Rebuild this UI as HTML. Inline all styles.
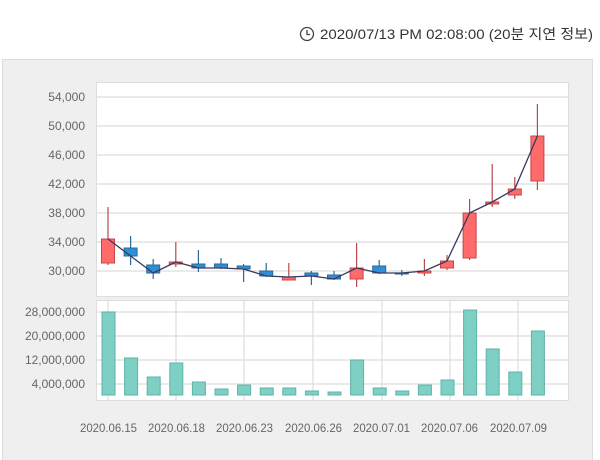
<!DOCTYPE html>
<html><head><meta charset="utf-8"><style>
body{margin:0;width:600px;height:460px;background:#fff;overflow:hidden}
svg{display:block;font-family:"Liberation Sans","Noto Sans CJK KR",sans-serif}
</style></head><body>
<svg width="600" height="460" viewBox="0 0 600 460">
<circle cx="307" cy="34" r="6.5" fill="none" stroke="#444" stroke-width="1.3"/>
<path d="M307 30v4.5h3" fill="none" stroke="#444" stroke-width="1.3"/>
<text x="320" y="39" textLength="273" lengthAdjust="spacingAndGlyphs" font-size="14" fill="#333" font-family="Liberation Sans,'Noto Sans CJK KR',sans-serif">2020/07/13 PM 02:08:00 (20분 지연 정보)</text>
<rect x="2.5" y="59.5" width="590" height="402" fill="#efefef" stroke="#ddd"/>
<rect x="96.5" y="82.5" width="472" height="214" fill="#fff" stroke="#ddd"/>
<rect x="96.5" y="300.5" width="472" height="100" fill="#fff" stroke="#ddd"/>
<g stroke="#ddd" stroke-width="1.2">
<line x1="97" x2="568" y1="97" y2="97"/><line x1="97" x2="568" y1="126" y2="126"/><line x1="97" x2="568" y1="155" y2="155"/><line x1="97" x2="568" y1="184" y2="184"/><line x1="97" x2="568" y1="213" y2="213"/><line x1="97" x2="568" y1="242" y2="242"/><line x1="97" x2="568" y1="271" y2="271"/>
<line x1="97" x2="568" y1="312" y2="312"/><line x1="97" x2="568" y1="336" y2="336"/><line x1="97" x2="568" y1="360" y2="360"/><line x1="97" x2="568" y1="384" y2="384"/>
<line x1="108" x2="108" y1="301" y2="400"/><line x1="176" x2="176" y1="301" y2="400"/><line x1="244" x2="244" y1="301" y2="400"/><line x1="313" x2="313" y1="301" y2="400"/><line x1="382" x2="382" y1="301" y2="400"/><line x1="450" x2="450" y1="301" y2="400"/><line x1="518" x2="518" y1="301" y2="400"/>
</g>
<g font-size="12" fill="#666" text-anchor="end" lengthAdjust="spacingAndGlyphs">
<text x="85" y="101">54,000</text><text x="85" y="130">50,000</text><text x="85" y="159">46,000</text><text x="85" y="188">42,000</text><text x="85" y="217">38,000</text><text x="85" y="246">34,000</text><text x="85" y="275">30,000</text>
<text x="85" y="316">28,000,000</text><text x="85" y="340">20,000,000</text><text x="85" y="364">12,000,000</text><text x="85" y="388">4,000,000</text>
</g>
<g font-size="12" fill="#666">
<text x="80" y="432" textLength="57" lengthAdjust="spacingAndGlyphs">2020.06.15</text><text x="148" y="432" textLength="57" lengthAdjust="spacingAndGlyphs">2020.06.18</text><text x="216" y="432" textLength="57" lengthAdjust="spacingAndGlyphs">2020.06.23</text><text x="285" y="432" textLength="57" lengthAdjust="spacingAndGlyphs">2020.06.26</text><text x="353" y="432" textLength="57" lengthAdjust="spacingAndGlyphs">2020.07.01</text><text x="421" y="432" textLength="57" lengthAdjust="spacingAndGlyphs">2020.07.06</text><text x="490" y="432" textLength="57" lengthAdjust="spacingAndGlyphs">2020.07.09</text>
</g>
<g fill="#7ecfc4" stroke="#5fb3a8">
<rect x="102" y="312" width="13" height="83"/><rect x="124.6" y="358" width="13" height="37"/><rect x="147.2" y="377" width="13" height="18"/><rect x="169.8" y="363" width="13" height="32"/><rect x="192.4" y="382" width="13" height="13"/><rect x="215" y="389" width="13" height="6"/><rect x="237.6" y="385" width="13" height="10"/><rect x="260.2" y="388" width="13" height="7"/><rect x="282.8" y="388" width="13" height="7"/><rect x="305.4" y="391" width="13" height="4"/><rect x="328" y="392" width="13" height="3"/><rect x="350.6" y="360" width="13" height="35"/><rect x="373.2" y="388" width="13" height="7"/><rect x="395.8" y="391" width="13" height="4"/><rect x="418.4" y="385" width="13" height="10"/><rect x="441" y="380" width="13" height="15"/><rect x="463.6" y="310" width="13" height="85"/><rect x="486.2" y="349" width="13" height="46"/><rect x="508.8" y="372" width="13" height="23"/><rect x="531.4" y="331" width="13" height="64"/>
</g>
<g stroke="#b84a4a" stroke-width="1.2">
<line x1="108" x2="108" y1="207" y2="265"/><line x1="175.8" x2="175.8" y1="242" y2="267"/><line x1="288.8" x2="288.8" y1="263" y2="280"/><line x1="356.6" x2="356.6" y1="243" y2="287"/><line x1="424.4" x2="424.4" y1="259" y2="276"/><line x1="447" x2="447" y1="255" y2="270"/><line x1="469.6" x2="469.6" y1="199" y2="260"/><line x1="492.2" x2="492.2" y1="164" y2="207"/><line x1="514.8" x2="514.8" y1="177" y2="199"/><line x1="537.4" x2="537.4" y1="104" y2="190"/>
</g>
<g stroke="#2a6a9a" stroke-width="1.2">
<line x1="130.6" x2="130.6" y1="236" y2="265"/><line x1="153.2" x2="153.2" y1="259" y2="279"/><line x1="198.4" x2="198.4" y1="250" y2="272"/><line x1="221" x2="221" y1="258" y2="269"/><line x1="243.6" x2="243.6" y1="264" y2="282"/><line x1="266.2" x2="266.2" y1="263" y2="277"/><line x1="311.4" x2="311.4" y1="271" y2="285"/><line x1="334" x2="334" y1="271" y2="280"/><line x1="379.2" x2="379.2" y1="260" y2="274"/><line x1="401.8" x2="401.8" y1="270" y2="276"/>
</g>
<g fill="#ff6b6b" stroke="#c04848">
<rect x="101.5" y="239" width="13" height="24"/><rect x="169.3" y="262" width="13" height="2"/><rect x="282.3" y="277" width="13" height="3"/><rect x="350.1" y="268" width="13" height="11"/><rect x="417.9" y="271" width="13" height="2"/><rect x="440.5" y="261" width="13" height="7"/><rect x="463.1" y="213" width="13" height="45"/><rect x="485.7" y="202" width="13" height="2"/><rect x="508.3" y="189" width="13" height="6"/><rect x="530.9" y="136" width="13" height="45"/>
</g>
<g fill="#2f8fd6" stroke="#2a6a9a">
<rect x="124.1" y="248" width="13" height="8"/><rect x="146.7" y="265" width="13" height="8"/><rect x="191.9" y="264" width="13" height="4"/><rect x="214.5" y="264" width="13" height="4"/><rect x="237.1" y="266" width="13" height="3"/><rect x="259.7" y="271" width="13" height="5"/><rect x="304.9" y="273" width="13" height="3"/><rect x="327.5" y="275" width="13" height="4"/><rect x="372.7" y="266" width="13" height="7"/><rect x="395.3" y="273" width="13" height="1"/>
</g>
<polyline fill="none" stroke="#3a3a60" stroke-width="1.3" points="108,239 130.6,256 153.2,273 175.8,262 198.4,268 221,268 243.6,269 266.2,276 288.8,277 311.4,276 334,279 356.6,268 379.2,273 401.8,273 424.4,271 447,261 469.6,213 492.2,202 514.8,189 537.4,136"/>
</svg>
</body></html>
